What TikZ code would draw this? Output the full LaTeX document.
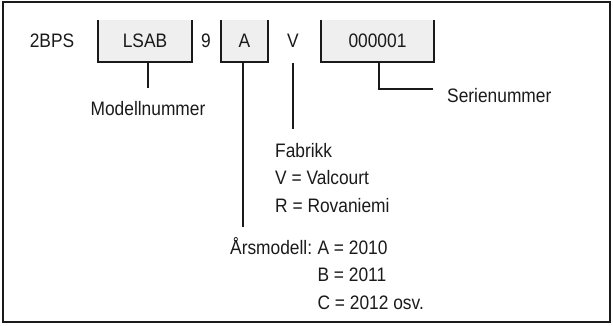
\documentclass[tikz,border=0pt]{standalone}
\usepackage{fontspec}
\setmainfont{Liberation Sans}[FakeStretch=0.89]
\usepackage{xcolor}
\usepackage{tikz}
\usetikzlibrary{positioning,calc}
\definecolor{ink}{HTML}{1A1A1A}
\definecolor{wash}{HTML}{EFEFEF}
\tikzset{
  txt/.style={font=\fontsize{19.5}{22}\selectfont, text=ink, inner sep=0pt},
  fld/.style={fill=wash, minimum height=42pt, inner sep=0pt,
              font=\fontsize{19.5}{22}\selectfont, text=ink},
  cup/.style={line width=1.8pt, draw=ink},
  lead/.style={line width=1.8pt, draw=ink},
  frame/.style={line width=1.4pt, draw=ink},
}
\begin{document}
\begin{tikzpicture}[x=1pt, y=-1pt]
  \useasboundingbox (0,0) rectangle (613,325);
  \draw[frame] (3,2) rectangle (610,322);

  % --- kode ---
  \node[txt, anchor=base] (bps) at (52,47) {2BPS};
  \node[fld, minimum width=94pt] (lsab) at (145,41) {};
  \node[txt, anchor=base] at (145,47) {LSAB};
  \node[txt, anchor=base] (nine) at (206,47) {9};
  \node[fld, minimum width=47pt] (abox) at (244.5,41) {};
  \node[txt, anchor=base] at (244.5,47) {A};
  \node[txt, anchor=base] (vl) at (293,47) {V};
  \node[fld, minimum width=113pt] (ser) at (377.5,41) {};
  \node[txt, anchor=base] at (377.5,47) {000001};

  \foreach \b in {lsab,abox,ser}
    \draw[cup] (\b.north west) -- (\b.south west) -- (\b.south east) -- (\b.north east);

  % --- forklaringer ---
  \node[txt, anchor=base] (modell) at (148,115) {Modellnummer};
  \node[txt, anchor=base west] (sertxt) at (447,102) {Serienummer};

  \node[txt, anchor=base west] (fab) at (275,157) {Fabrikk};
  \node[txt, anchor=base west] (fabv) at (275,184.5) {V = Valcourt};
  \node[txt, anchor=base west] (fabr) at (275,212) {R = Rovaniemi};

  \node[txt, anchor=base west] (aar) at (230,254) {Årsmodell:};
  \node[txt, anchor=base west] (aara) at ($(aar.base east)+(5,0)$) {A = 2010};
  \node[txt, anchor=base west] (aarb) at ($(aara.base west)+(0,27.5)$) {B = 2011};
  \node[txt, anchor=base west] (aarc) at ($(aarb.base west)+(0,27.5)$) {C = 2012 osv.};

  % --- linjer ---
  \coordinate (modtop) at (148,88);
  \coordinate (vtop) at (293,63);
  \coordinate (vend) at (293,129);
  \coordinate (aend) at (243,227);
  \coordinate (serknee) at (379,89);
  \coordinate (serend) at (433,89);

  \draw[lead] (lsab.south -| modtop) -- (modtop);
  \draw[lead] (abox.south -| aend) -- (aend);
  \draw[lead] (vtop) -- (vend);
  \draw[lead] (ser.south -| serknee) -- (serknee) -- (serend);
\end{tikzpicture}
\end{document}
